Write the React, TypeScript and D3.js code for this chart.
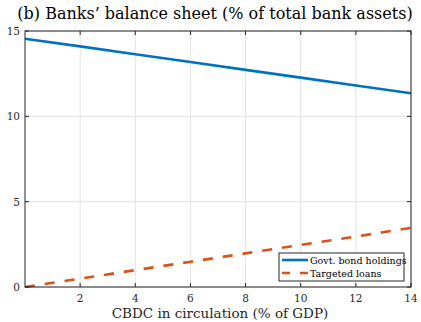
import React from "react";
import * as d3 from "d3";

const cbdc = [0, 2, 4, 6, 8, 10, 12, 14];
const govtBonds = [14.55, 14.1, 13.64, 13.18, 12.72, 12.27, 11.81, 11.35];
const targetedLoans = [0, 0.49, 0.99, 1.48, 1.97, 2.47, 2.96, 3.46];
const xTicks = [2, 4, 6, 8, 10, 12, 14];
const yTicks = [0, 5, 10, 15];
const seriesNames = ["Govt. bond holdings", "Targeted loans"];

const W = 421;
const H = 322;
const M = { left: 25, right: 10, top: 31, bottom: 35 };
const FONT = "'DejaVu Serif', 'Liberation Serif', serif";

export default function App() {
  const x = d3.scaleLinear().domain([0, 14]).range([M.left, W - M.right]);
  const y = d3.scaleLinear().domain([0, 15]).range([H - M.bottom, M.top]);
  const line = d3
    .line<number>()
    .x((_, i) => x(cbdc[i]))
    .y((d) => y(d));
  const x0 = x(0), x1 = x(14), y0 = y(0), y1 = y(15);
  const axisColor = "#262626";

  return (
    <svg
      width={W}
      height={H}
      style={{ position: "absolute", left: 0, top: 0, background: "#fff" }}
      fontFamily={FONT}
    >
      <rect width={W} height={H} fill="#fff" />
      {/* grid */}
      {xTicks.map((t) => (
        <line key={"gx" + t} x1={x(t)} x2={x(t)} y1={y0} y2={y1} stroke="#e3e3e3" strokeWidth={1} />
      ))}
      {yTicks.map((t) => (
        <line key={"gy" + t} x1={x0} x2={x1} y1={y(t)} y2={y(t)} stroke="#e3e3e3" strokeWidth={1} />
      ))}
      {/* series */}
      <path d={line(govtBonds) || ""} fill="none" stroke="#0072BD" strokeWidth={2.6} />
      <path
        d={line(targetedLoans) || ""}
        fill="none"
        stroke="#D95319"
        strokeWidth={2.6}
        strokeDasharray="10,10"
      />
      {/* frame */}
      <rect x={x0} y={y1} width={x1 - x0} height={y0 - y1} fill="none" stroke={axisColor} strokeWidth={1} />
      {/* ticks */}
      {xTicks.map((t) => (
        <g key={"tx" + t}>
          <line x1={x(t)} x2={x(t)} y1={y0} y2={y0 - 4} stroke={axisColor} />
          <line x1={x(t)} x2={x(t)} y1={y1} y2={y1 + 4} stroke={axisColor} />
          <text x={x(t)} y={y0 + 15} fontSize={10.5} textAnchor="middle" fill="#262626">
            {t}
          </text>
        </g>
      ))}
      {yTicks.map((t) => (
        <g key={"ty" + t}>
          <line x1={x0} x2={x0 + 4} y1={y(t)} y2={y(t)} stroke={axisColor} />
          <line x1={x1} x2={x1 - 4} y1={y(t)} y2={y(t)} stroke={axisColor} />
          <text x={x0 - 5} y={y(t) + 4} fontSize={10.5} textAnchor="end" fill="#262626">
            {t}
          </text>
        </g>
      ))}
      {/* labels */}
      <text x={(x0 + x1) / 2 + 2} y={H - 4} fontSize={13.5} textAnchor="middle" fill="#262626">
        CBDC in circulation (% of GDP)
      </text>
      <text x={215} y={19} fontSize={16} textAnchor="middle" fill="#000">
        (b) Banks’ balance sheet (% of total bank assets)
      </text>
      {/* legend */}
      <g>
        <rect x={279} y={253} width={125} height={28} fill="#fff" stroke={axisColor} strokeWidth={1} />
        <line x1={282} x2={308} y1={260} y2={260} stroke="#0072BD" strokeWidth={2.6} />
        <line x1={282} x2={308} y1={273} y2={273} stroke="#D95319" strokeWidth={2.6} strokeDasharray="8,10" />
        <text x={310} y={263.5} fontSize={9.5} fill="#000">{seriesNames[0]}</text>
        <text x={310} y={276.5} fontSize={9.5} fill="#000">{seriesNames[1]}</text>
      </g>
    </svg>
  );
}
